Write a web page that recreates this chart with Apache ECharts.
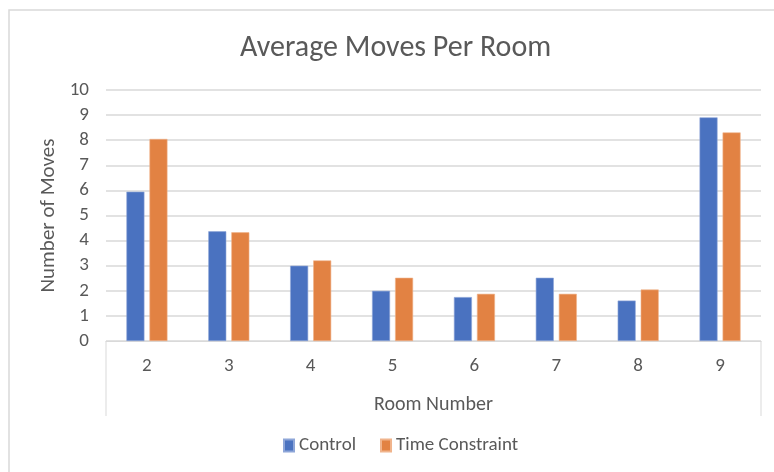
<!DOCTYPE html>
<html>
<head>
<meta charset="utf-8">
<script src="https://cdn.jsdelivr.net/npm/echarts@6/dist/echarts.min.js"></script>
<style>
  html, body { margin: 0; padding: 0; background: #fff; }
  #chart { width: 774px; height: 472px; }
</style>
</head>
<body>
<div id="chart"></div>
<script>
// data
var rooms = ['2', '3', '4', '5', '6', '7', '8', '9']
var control = [5.95, 4.37, 3.0, 2.0, 1.75, 2.52, 1.61, 8.91]
var timeConstraint = [8.05, 4.33, 3.21, 2.52, 1.88, 1.88, 2.05, 8.31]

var font = "'Carlito', 'Liberation Sans Narrow', 'Liberation Sans', sans-serif"
var textColor = '#595959'
var lineColor = '#d9d9d9'

var gridLeft = 106
var gridRight = 13
var gridTop = 90
var gridBottom = 131

var chart = echarts.init(document.getElementById('chart'))
chart.setOption({
  animation: false,
  textStyle: { fontFamily: font },
  title: {
    text: 'Average Moves Per Room',
    left: 235,
    top: 28,
    textStyle: { fontSize: 30, fontWeight: 'normal', color: textColor, fontFamily: font }
  },
  legend: {
    bottom: 12,
    left: 278,
    itemWidth: 10,
    itemHeight: 12,
    itemGap: 24,
    icon: 'rect',
    textStyle: { fontSize: 19, color: textColor, fontFamily: font },
    data: ['Control', 'Time Constraint']
  },
  grid: { left: gridLeft, right: gridRight, top: gridTop, bottom: gridBottom },
  graphic: [
    {
      // outer chart frame
      type: 'rect',
      shape: { x: 9, y: 10, width: 800, height: 500 },
      style: { fill: 'none', stroke: lineColor, lineWidth: 1.5 },
      silent: true
    },
    {
      type: 'line',
      shape: { x1: gridLeft, y1: 472 - gridBottom, x2: gridLeft, y2: 416 },
      style: { stroke: lineColor, lineWidth: 1 },
      silent: true
    },
    {
      type: 'line',
      shape: { x1: 774 - gridRight, y1: 472 - gridBottom, x2: 774 - gridRight, y2: 416 },
      style: { stroke: lineColor, lineWidth: 1 },
      silent: true
    }
  ],
  xAxis: {
    type: 'category',
    data: rooms,
    name: 'Room Number',
    nameLocation: 'middle',
    nameGap: 54,
    nameTextStyle: { fontSize: 20, color: textColor, fontFamily: font },
    axisLine: { lineStyle: { color: lineColor, width: 1 } },
    axisTick: { show: false },
    axisLabel: { fontSize: 19, color: textColor, margin: 16, fontFamily: font }
  },
  yAxis: {
    type: 'value',
    min: 0,
    max: 10,
    interval: 1,
    name: 'Number of Moves',
    nameLocation: 'middle',
    nameGap: 38,
    nameTextStyle: { fontSize: 21, color: textColor, fontFamily: font },
    axisLine: { show: false },
    axisTick: { show: false },
    axisLabel: { fontSize: 19, color: textColor, margin: 17, fontFamily: font },
    splitLine: { lineStyle: { color: lineColor, width: 1.5 } }
  },
  series: [
    {
      name: 'Control',
      type: 'bar',
      data: control,
      barWidth: 18,
      barGap: '28%',
      itemStyle: { color: '#4a72c0', borderColor: '#8ea6d8', borderWidth: 0.6 }
    },
    {
      name: 'Time Constraint',
      type: 'bar',
      data: timeConstraint,
      barWidth: 18,
      barGap: '28%',
      itemStyle: { color: '#e28243', borderColor: '#f0b48c', borderWidth: 0.6 }
    }
  ]
})
</script>
</body>
</html>
